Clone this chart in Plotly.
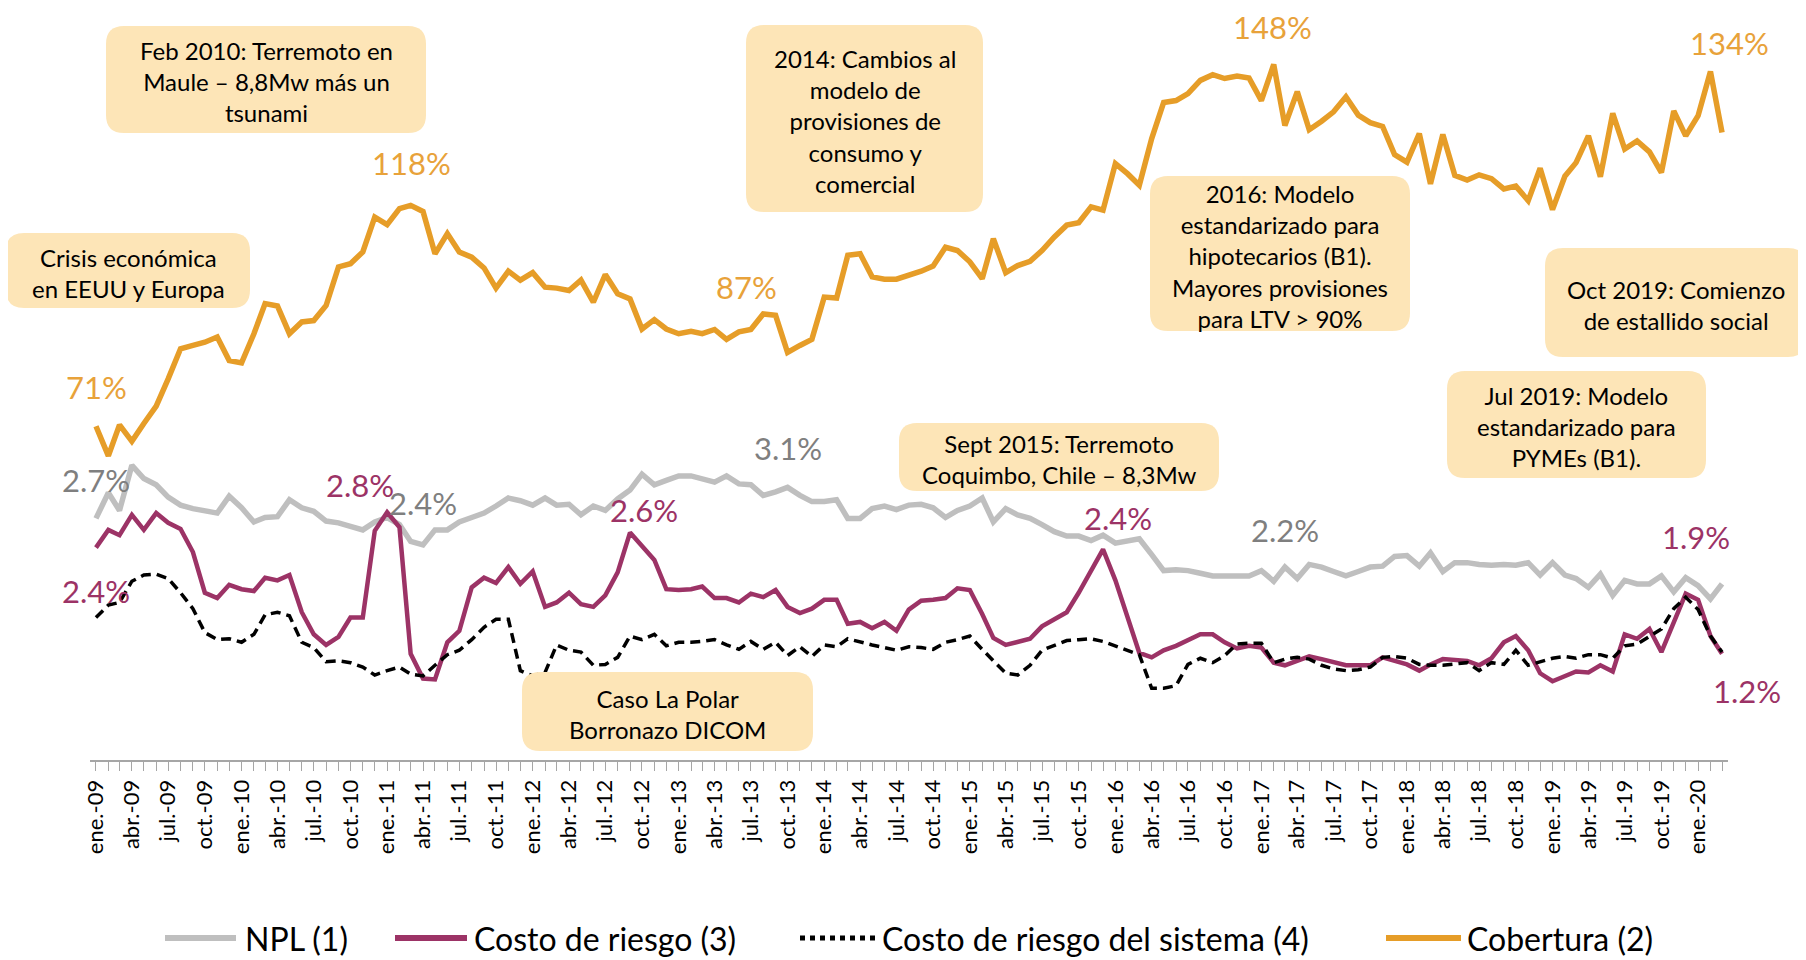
import plotly.graph_objects as go
import pandas as pd

# ---------------- DATA ----------------
months = pd.date_range("2009-01-01", periods=135, freq="MS")

tick_labels = [
    "ene.-09", "abr.-09", "jul.-09", "oct.-09",
    "ene.-10", "abr.-10", "jul.-10", "oct.-10",
    "ene.-11", "abr.-11", "jul.-11", "oct.-11",
    "ene.-12", "abr.-12", "jul.-12", "oct.-12",
    "ene.-13", "abr.-13", "jul.-13", "oct.-13",
    "ene.-14", "abr.-14", "jul.-14", "oct.-14",
    "ene.-15", "abr.-15", "jul.-15", "oct.-15",
    "ene.-16", "abr.-16", "jul.-16", "oct.-16",
    "ene.-17", "abr.-17", "jul.-17", "oct.-17",
    "ene.-18", "abr.-18", "jul.-18", "oct.-18",
    "ene.-19", "abr.-19", "jul.-19", "oct.-19",
    "ene.-20",
]

npl = [
    2.73, 3.02, 2.82, 3.33, 3.18, 3.11, 2.97, 2.88, 2.84, 2.81, 2.79, 2.98,
    2.85, 2.69, 2.74, 2.75, 2.94, 2.85, 2.81, 2.70, 2.68, 2.64, 2.60, 2.69,
    2.74, 2.66, 2.47, 2.43, 2.60, 2.60, 2.69, 2.74, 2.79, 2.87, 2.96, 2.93,
    2.88, 2.96, 2.88, 2.89, 2.77, 2.87, 2.82, 2.95, 3.05, 3.23, 3.11, 3.16,
    3.21, 3.21, 3.18, 3.14, 3.21, 3.12, 3.11, 2.99, 3.03, 3.08, 2.99, 2.92,
    2.92, 2.94, 2.73, 2.73, 2.84, 2.87, 2.83, 2.88, 2.89, 2.85, 2.74, 2.82,
    2.87, 2.96, 2.69, 2.84, 2.77, 2.73, 2.66, 2.58, 2.53, 2.53, 2.48, 2.54,
    2.45, 2.48, 2.50, 2.32, 2.14, 2.15, 2.14, 2.11, 2.08, 2.08, 2.08, 2.08,
    2.14, 2.02, 2.18, 2.05, 2.21, 2.18, 2.13, 2.08, 2.13, 2.18, 2.19, 2.30,
    2.31, 2.19, 2.34, 2.13, 2.23, 2.23, 2.21, 2.20, 2.21, 2.20, 2.23, 2.09,
    2.23, 2.09, 2.05, 1.95, 2.10, 1.86, 2.03, 1.99, 1.99, 2.08, 1.90, 2.06,
    1.97, 1.82, 1.99,
]

costo_riesgo = [
    2.40, 2.60, 2.54, 2.77, 2.60, 2.79, 2.68, 2.61, 2.35, 1.89, 1.83, 1.98,
    1.93, 1.91, 2.06, 2.03, 2.09, 1.67, 1.42, 1.30, 1.39, 1.61, 1.61, 2.59,
    2.80, 2.63, 1.20, 0.92, 0.91, 1.33, 1.46, 1.95, 2.06, 2.00, 2.18, 1.99,
    2.13, 1.73, 1.78, 1.89, 1.76, 1.73, 1.86, 2.12, 2.57, 2.42, 2.26, 1.93,
    1.92, 1.93, 1.96, 1.83, 1.83, 1.78, 1.88, 1.84, 1.92, 1.73, 1.66, 1.71,
    1.81, 1.81, 1.54, 1.56, 1.49, 1.56, 1.46, 1.70, 1.80, 1.81, 1.83, 1.94,
    1.92, 1.65, 1.38, 1.30, 1.33, 1.37, 1.51, 1.59, 1.67, 1.89, 2.13, 2.38,
    2.03, 1.61, 1.21, 1.16, 1.24, 1.29, 1.36, 1.42, 1.42, 1.33, 1.26, 1.29,
    1.27, 1.10, 1.07, 1.12, 1.17, 1.14, 1.11, 1.07, 1.07, 1.07, 1.16, 1.12,
    1.08, 1.01, 1.08, 1.14, 1.13, 1.12, 1.07, 1.15, 1.33, 1.40, 1.24, 0.98,
    0.89, 0.95, 1.00, 0.99, 1.07, 1.00, 1.42, 1.37, 1.48, 1.22, 1.56, 1.88,
    1.81, 1.40, 1.20,
]

costo_sistema = [
    1.61, 1.75, 1.78, 2.02, 2.09, 2.10, 2.05, 1.89, 1.71, 1.44, 1.36, 1.37,
    1.33, 1.42, 1.64, 1.67, 1.63, 1.33, 1.27, 1.11, 1.12, 1.10, 1.05, 0.96,
    1.01, 1.05, 0.97, 0.95, 1.07, 1.19, 1.24, 1.36, 1.50, 1.59, 1.59, 1.01,
    0.95, 0.99, 1.30, 1.24, 1.22, 1.07, 1.08, 1.16, 1.40, 1.36, 1.42, 1.29,
    1.33, 1.33, 1.34, 1.36, 1.30, 1.25, 1.34, 1.25, 1.33, 1.18, 1.28, 1.17,
    1.30, 1.28, 1.37, 1.33, 1.30, 1.27, 1.24, 1.28, 1.27, 1.25, 1.33, 1.36,
    1.40, 1.25, 1.12, 0.98, 0.96, 1.07, 1.24, 1.30, 1.35, 1.36, 1.37, 1.34,
    1.29, 1.24, 1.19, 0.81, 0.81, 0.84, 1.08, 1.15, 1.10, 1.18, 1.31, 1.32,
    1.32, 1.10, 1.14, 1.16, 1.14, 1.07, 1.03, 1.01, 1.02, 1.05, 1.16, 1.17,
    1.15, 1.08, 1.07, 1.07, 1.08, 1.10, 1.01, 1.10, 1.08, 1.24, 1.07, 1.11,
    1.15, 1.17, 1.15, 1.19, 1.19, 1.15, 1.29, 1.31, 1.40, 1.48, 1.71, 1.84,
    1.70, 1.40, 1.22,
]

cobertura = [
    71.0, 64.7, 71.3, 67.8, 71.6, 75.3, 81.1, 87.5, 88.2, 88.9, 90.0, 85.0,
    84.5, 90.7, 97.1, 96.6, 90.7, 93.2, 93.5, 96.7, 104.9, 105.6, 108.1, 115.5,
    113.9, 117.3, 118.0, 116.7, 107.7, 112.0, 108.1, 107.0, 104.7, 100.4, 104.0, 102.1,
    103.7, 100.6, 100.4, 99.9, 102.1, 97.4, 103.3, 99.2, 98.1, 91.7, 93.7, 91.7,
    90.7, 91.2, 90.7, 91.6, 89.5, 91.1, 91.6, 94.9, 94.6, 86.7, 88.2, 89.5,
    98.5, 98.3, 107.4, 107.7, 102.8, 102.3, 102.3, 103.0, 104.0, 105.1, 109.1, 108.4,
    106.0, 102.4, 110.9, 103.7, 105.2, 106.1, 108.4, 111.3, 113.8, 114.3, 117.7, 117.0,
    126.9, 124.7, 122.3, 132.2, 139.9, 140.3, 141.8, 144.6, 145.8, 145.0, 145.5, 145.1,
    140.3, 148.0, 135.0, 142.2, 134.1, 135.9, 137.9, 141.1, 137.2, 135.6, 134.8, 128.8,
    127.2, 133.3, 122.6, 133.1, 124.4, 123.4, 124.5, 123.7, 121.5, 122.1, 119.0, 125.9,
    117.1, 124.2, 127.1, 132.8, 124.1, 137.6, 130.0, 131.7, 129.4, 125.0, 138.1, 132.8,
    137.1, 146.5, 133.5,
]

series_names = ["NPL (1)", "Costo de riesgo (3)", "Costo de riesgo del sistema (4)", "Cobertura (2)"]

# value labels: (text, colour key, centre x, centre y) in screen pixels
value_labels = [
    ("71%", "orange", 96, 387), ("118%", "orange", 411, 163), ("87%", "orange", 746, 287),
    ("148%", "orange", 1272, 27), ("134%", "orange", 1729, 43),
    ("2.7%", "gray", 96, 480), ("2.4%", "gray", 423, 503), ("3.1%", "gray", 788, 448),
    ("2.2%", "gray", 1285, 530),
    ("2.4%", "mag", 96, 591), ("2.8%", "mag", 360, 485), ("2.6%", "mag", 644, 510),
    ("2.4%", "mag", 1118, 518), ("1.9%", "mag", 1696, 537), ("1.2%", "mag", 1747, 691),
]

notes = [
    ("Crisis económica<br>en EEUU y Europa", 6, 233, 250, 308),
    ("Feb 2010: Terremoto en<br>Maule – 8,8Mw más un<br>tsunami", 106, 26, 426, 133),
    ("2014: Cambios al<br>modelo de<br>provisiones de<br>consumo y<br>comercial", 746, 25, 983, 212),
    ("2016: Modelo<br>estandarizado para<br>hipotecarios (B1).<br>Mayores provisiones<br>para LTV > 90%", 1150, 176, 1410, 331),
    ("Oct 2019: Comienzo<br>de estallido social", 1545, 248, 1806, 357),
    ("Jul 2019: Modelo<br>estandarizado para<br>PYMEs (B1).", 1447, 371, 1706, 478),
    ("Sept 2015: Terremoto<br>Coquimbo, Chile – 8,3Mw", 899, 423, 1219, 491),
    ("Caso La Polar<br>Borronazo DICOM", 522, 672, 813, 751),
]

# ---------------- STYLE ----------------
OFF = 8                       # page body margin of the browser
W, H = 1806 - OFF, 960 - OFF
PLOT_L, PLOT_R, PLOT_T, PLOT_B = 90, 1728, 20, 760   # screen pixels
L, T = PLOT_L - OFF, PLOT_T - OFF
R, B = W - (PLOT_R - OFF), H - (PLOT_B - OFF)
PW, PH = PLOT_R - PLOT_L, PLOT_B - PLOT_T
FONT = "Lato, 'Open Sans', sans-serif"
C_GRAY, C_MAG, C_BLACK, C_ORANGE = "#BFBFBF", "#9C3366", "#000000", "#E69D28"
TXT = {"orange": "#E8A23A", "gray": "#7F7F7F", "mag": "#9C3366"}
BOX = "#FDE5B7"


def X(x):
    return (x - PLOT_L) / PW


def Y(y):
    return (PLOT_B - y) / PH


fig = go.Figure()
fig.add_trace(go.Scatter(x=months, y=npl, name=series_names[0], mode="lines",
                         line=dict(color=C_GRAY, width=5.5), yaxis="y"))
fig.add_trace(go.Scatter(x=months, y=costo_riesgo, name=series_names[1], mode="lines",
                         line=dict(color=C_MAG, width=4.5), yaxis="y"))
fig.add_trace(go.Scatter(x=months, y=costo_sistema, name=series_names[2], mode="lines",
                         line=dict(color=C_BLACK, width=3.5, dash="10px,6px"), yaxis="y"))
fig.add_trace(go.Scatter(x=months, y=cobertura, name=series_names[3], mode="lines",
                         line=dict(color=C_ORANGE, width=5.5), yaxis="y2"))

shapes = []
annotations = []


def rrect(x0, y0, x1, y1, r=18):
    return (f"M{X(x0 + r)},{Y(y0)} L{X(x1 - r)},{Y(y0)} Q{X(x1)},{Y(y0)} {X(x1)},{Y(y0 + r)} "
            f"L{X(x1)},{Y(y1 - r)} Q{X(x1)},{Y(y1)} {X(x1 - r)},{Y(y1)} "
            f"L{X(x0 + r)},{Y(y1)} Q{X(x0)},{Y(y1)} {X(x0)},{Y(y1 - r)} "
            f"L{X(x0)},{Y(y0 + r)} Q{X(x0)},{Y(y0)} {X(x0 + r)},{Y(y0)} Z")


for text, x0, y0, x1, y1 in notes:
    shapes.append(dict(type="path", path=rrect(x0, y0, x1, y1), xref="paper", yref="paper",
                       fillcolor=BOX, line=dict(width=0), layer="above"))
    annotations.append(dict(text=text, xref="paper", yref="paper",
                            x=X((x0 + x1) / 2), y=Y((y0 + y1) / 2 + 2),
                            xanchor="center", yanchor="middle", showarrow=False, align="center",
                            font=dict(family=FONT, size=24, color="#000000")))

for text, key, cx, cy in value_labels:
    annotations.append(dict(text=text, xref="paper", yref="paper", x=X(cx), y=Y(cy),
                            xanchor="center", yanchor="middle", showarrow=False,
                            font=dict(family=FONT, size=31, color=TXT[key])))

# custom legend (screen pixels)
legend_items = [
    (series_names[0], C_GRAY, 6, "solid", 165, 236, 243),
    (series_names[1], C_MAG, 6, "solid", 395, 467, 472),
    (series_names[2], C_BLACK, 5, "dot", 800, 875, 880),
    (series_names[3], C_ORANGE, 6, "solid", 1386, 1461, 1465),
]
LY = 938
for name, col, w, dash, lx0, lx1, tx in legend_items:
    shapes.append(dict(type="line", xref="paper", yref="paper", x0=X(lx0), x1=X(lx1),
                       y0=Y(LY), y1=Y(LY), line=dict(color=col, width=w, dash=dash)))
    annotations.append(dict(text=name, xref="paper", yref="paper", x=X(tx), y=Y(LY),
                            xanchor="left", yanchor="middle", showarrow=False,
                            font=dict(family=FONT, size=32, color="#000000")))

fig.update_layout(
    width=W, height=H,
    margin=dict(l=L, r=R, t=T, b=B, autoexpand=False),
    paper_bgcolor="white", plot_bgcolor="white",
    showlegend=False,
    font=dict(family=FONT),
    xaxis=dict(
        type="date", range=["2008-12-17", "2020-03-16"],
        tickmode="array", tickvals=list(months[::3]), ticktext=tick_labels,
        tickangle=-90, tickfont=dict(family=FONT, size=22, color="#000000"),
        ticks="outside", ticklen=9, tickcolor="#A6A6A6", tickwidth=1,
        minor=dict(ticks="outside", ticklen=9, tickcolor="#A6A6A6", tickwidth=1,
                   tickmode="linear", tick0="2009-01-01", dtick="M1", showgrid=False),
        showline=True, linecolor="#A6A6A6", linewidth=2,
        showgrid=False, zeroline=False,
    ),
    yaxis=dict(range=[0, PH / 88.5], visible=False, showgrid=False, zeroline=False),
    yaxis2=dict(range=[0, PH / 4.7], visible=False, overlaying="y", side="right",
                showgrid=False, zeroline=False),
    shapes=shapes,
    annotations=annotations,
)

fig.write_html("out.html")
